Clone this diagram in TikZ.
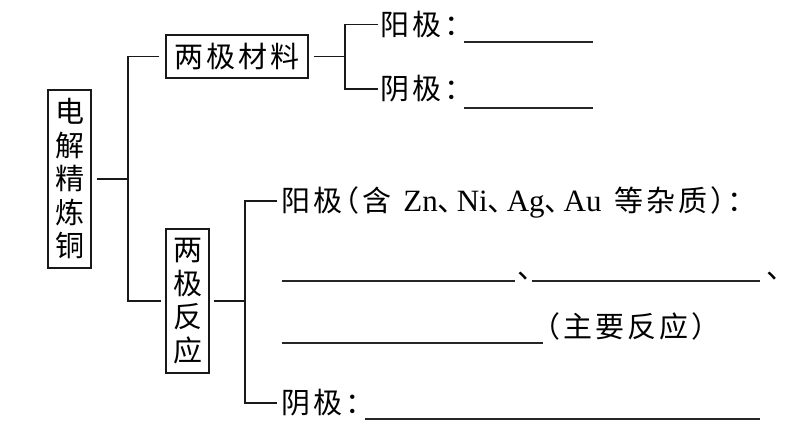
\documentclass[tikz,border=0pt]{standalone}
\usepackage{fontspec}
\setmainfont{Liberation Serif}
\newfontfamily\cjk[LetterSpace=10,RawFeature=+halt]{Noto Sans CJK SC}
\newfontfamily\cjkb{Noto Sans CJK SC}
\newcommand\latw[1]{{\rmfamily\fontsize{31}{33.5}\selectfont #1}}
\newcommand\dunw{\makebox[19pt][l]{\cjkb 、}}
\begin{document}
\begin{tikzpicture}[x=1pt,y=-1pt,
  box/.style={draw=black!90, line width=1.3pt, inner sep=0pt, align=center,
    font=\cjkb\fontsize{29}{33.5}\selectfont},
  link/.style={draw=black!90, line width=1.3pt},
  blank/.style={draw=black!85, line width=1.1pt},
  lbl/.style={font=\cjk\fontsize{29}{33.5}\selectfont, inner sep=0pt,
    anchor=west, text height=25pt, text depth=4pt}]
\useasboundingbox[fill=white] (0,0) rectangle (807,447);

% boxes
\node[box, minimum width=43pt, minimum height=178pt] (main) at (69.5,179) {电\\解\\精\\炼\\铜};
\node[box, minimum width=142pt, minimum height=43pt,
  font=\cjk\fontsize{29}{33.5}\selectfont] (mat) at (237,56.5) {两极材料};
\node[box, minimum width=43pt, minimum height=144pt] (rea) at (187.5,301) {两\\极\\反\\应};

% first bracket
\coordinate (j1) at (128,179);
\draw[link] ([xshift=5pt]main.east) -- (j1);
\draw[link] ([xshift=-6pt]mat.west) -| (j1) |- ([xshift=-4pt]rea.west);

% electrode materials
\node[lbl] (a1) at (380,24.5) {阳极：};
\node[lbl] (c1) at (380,89) {阴极：};
\coordinate (j2) at (345,56.5);
\draw[link] ([xshift=5pt]mat.east) -- (j2);
\draw[link] ([xshift=-2pt]a1.west) -| (j2) |- ([xshift=-2pt]c1.west);
\draw[blank] (464,42) -- (593,42);
\draw[blank] (464,108) -- (593,108);

% electrode reactions
\node[lbl] (a2) at (281,201) {阳极（含\hspace{12pt}\latw{Zn}\dunw\latw{Ni}\dunw\latw{Ag}\dunw\latw{Au}\hspace{13pt}等杂质）：};
\node[lbl] (c2) at (281,403) {阴极：};
\coordinate (j3) at (245,301);
\draw[link] ([xshift=4pt]rea.east) -- (j3);
\draw[link] ([xshift=-4pt]a2.west) -| (j3) |- ([xshift=-4pt]c2.west);

\draw[blank] (282,281) -- (515,281);
\node[lbl, anchor=base west, text height=, text depth=] (d1) at (517,278) {、};
\draw[blank] (532,281) -- (760,281);
\node[lbl, anchor=base west, text height=, text depth=] (d2) at (766,278) {、};

\draw[blank] (282,343) -- (543,343);
\node[lbl] (note) at (546,327) {（主要反应）};

\draw[blank] (365,419) -- (760,419);
\end{tikzpicture}
\end{document}
